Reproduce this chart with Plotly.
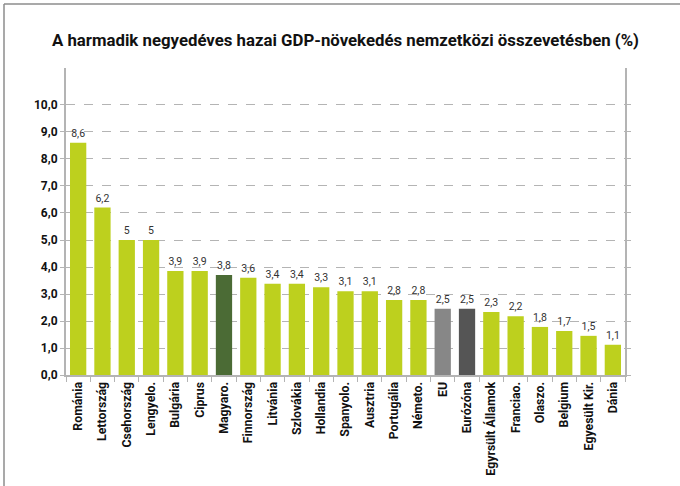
import plotly.graph_objects as go

categories = ["Románia", "Lettország", "Csehország", "Lengyelo.", "Bulgária", "Ciprus",
              "Magyaro.", "Finnország", "Litvánia", "Szlovákia", "Hollandia", "Spanyolo.",
              "Ausztria", "Portugália", "Németo.", "EU", "Eurózóna", "Egyrsült Államok",
              "Franciao.", "Olaszo.", "Belgium", "Egyesült Kir.", "Dánia"]
values = [8.6, 6.2, 5.0, 5.0, 3.9, 3.9, 3.8, 3.6, 3.4, 3.4, 3.3, 3.1, 3.1, 2.8, 2.8,
          2.5, 2.5, 2.3, 2.2, 1.8, 1.7, 1.5, 1.1]
bar_heights = [8.6, 6.2, 5.0, 5.0, 3.85, 3.85, 3.7, 3.6, 3.38, 3.38, 3.25, 3.1, 3.1, 2.78, 2.78,
               2.45, 2.45, 2.33, 2.18, 1.78, 1.63, 1.45, 1.12]
y_ticks = [0, 1, 2, 3, 4, 5, 6, 7, 8, 9, 10]

LIME = "#BDD01E"
special = {"Magyaro.": "#4B6B35", "EU": "#878787", "Eurózóna": "#555555"}
colors = [special.get(c, LIME) for c in categories]
labels = [("%g" % v).replace(".", ",") for v in values]

FONT = "Roboto, Liberation Sans, sans-serif"

fig = go.Figure(go.Bar(
    x=categories, y=bar_heights, marker=dict(color=colors, line=dict(width=0)),
    text=labels, textposition="outside", cliponaxis=False,
    textfont=dict(family=FONT, size=10.5, color="#333333"),
    hoverinfo="skip",
))

W, H = 680, 486
L, R, T, B = 66, 55, 68, 111
pw, ph = W - L - R, H - T - B

fig.update_layout(
    width=W, height=H,
    margin=dict(l=L, r=R, t=T, b=B, autoexpand=False),
    paper_bgcolor="white", plot_bgcolor="white",
    separators=",.",
    bargap=0.33,
    showlegend=False,
    title=dict(text="A harmadik negyedéves hazai GDP-növekedés nemzetközi összevetésben (%)",
               x=0.5, xref="paper", xanchor="center", y=1 - 40 / H, yanchor="middle",
               font=dict(family=FONT, size=16.8, color="#111111", weight="bold")),
    xaxis=dict(
        type="category", showline=True, linecolor="#b4b4b4", linewidth=2,
        ticks="outside", tickson="boundaries", ticklen=5, tickcolor="#b4b4b4",
        tickangle=-90, tickfont=dict(family=FONT, size=12.3, color="#111111", weight="bold"),
        showgrid=False, automargin=False,
    ),
    yaxis=dict(
        range=[0, 11.37], tickvals=y_ticks, tickformat=".1f",
        showline=True, linecolor="#b4b4b4", linewidth=2, mirror="ticks",
        ticks="outside", ticklen=4, tickcolor="#b4b4b4",
        showgrid=True, gridcolor="#b4b4b4", griddash="dash", gridwidth=1,
        tickfont=dict(family=FONT, size=12, color="#111111", weight="bold"),
        zeroline=False, automargin=False,
    ),
)

# outer frame (top and left edges)
x0 = (4 - L) / pw
x1 = (W - L) / pw
ytop = (H - B - 4) / ph
ybot = (H - B - H) / ph
fig.add_shape(type="line", xref="paper", yref="paper", x0=x0, x1=x1, y0=ytop, y1=ytop,
              line=dict(color="#8c8c8c", width=1.5))
fig.add_shape(type="line", xref="paper", yref="paper", x0=x0, x1=x0, y0=ytop, y1=ybot,
              line=dict(color="#8c8c8c", width=1.5))

fig.write_html("out.html", config={"displayModeBar": False},
               post_script="document.body.style.margin='0';")
